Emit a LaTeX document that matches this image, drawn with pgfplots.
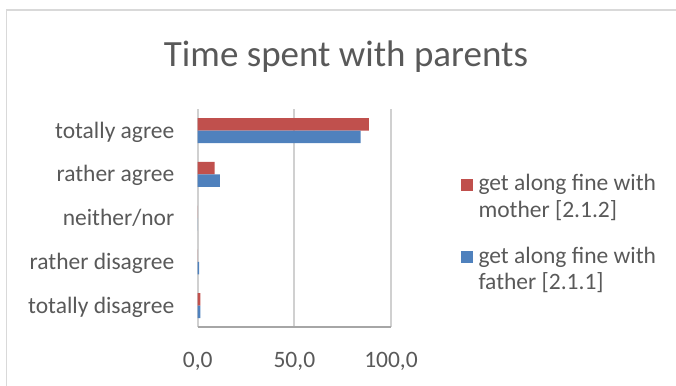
\documentclass[border=0pt]{standalone}
\usepackage{fontspec}
\setmainfont{Carlito}
\usepackage{pgfplots}
\usepackage{pgfplotstable}
\pgfplotsset{compat=1.18}

\definecolor{mothercol}{HTML}{C0504D}
\definecolor{fathercol}{HTML}{4F81BD}
\definecolor{txtgray}{HTML}{595959}
\definecolor{gridgray}{HTML}{D0D0D0}
\definecolor{framegray}{HTML}{D9D9D9}
\definecolor{axisgray}{HTML}{A6A6A6}

% share of answers (%) per category, 0 = totally disagree ... 4 = totally agree
\pgfplotstableread{
pos mother father
0   1.4    1.4
1   0      0.7
2   0      0
3   8.8    11.5
4   88.5   84.3
}\answers

\newcommand{\labelfont}{\fontsize{23.5}{28}\selectfont}

\begin{document}
\begin{tikzpicture}[x=1pt,y=1pt]
\useasboundingbox (0,0) rectangle (676,385);
% chart frame
\begin{scope}
  \clip (0,0) rectangle (676,385);
  \draw[framegray, line width=1.5pt] (6.5,-20) |- (700,375);
\end{scope}

\node[txtgray, font=\fontsize{37}{44}\selectfont, anchor=base, inner sep=0]
  at (346,318) {Time spent with parents};

\begin{axis}[
  at={(197.7pt,57.5pt)}, anchor=south west,
  scale only axis, width=193.3pt, height=218.7pt,
  xbar, bar width=12.5pt,
  xmin=0, xmax=100, ymin=-0.5, ymax=4.5,
  xtick={0,50,100},
  ytick={0,1,2,3,4},
  yticklabels={totally disagree, rather disagree, neither/nor, rather agree, totally agree},
  major tick length=0pt,
  axis line style={draw=none},
  xmajorgrids, grid style={gridgray, line width=1.8pt},
  /pgf/number format/assume math mode=true,
  xticklabel style={/pgf/number format/.cd, fixed, fixed zerofill, precision=1, use comma,
    /tikz/.cd, font=\labelfont, text=txtgray, anchor=base, inner sep=0pt, yshift=-39.8pt},
  yticklabel style={font=\labelfont, text=txtgray, anchor=base east, inner sep=0pt,
    xshift=-23.2pt, yshift=-7.5pt},
  clip=false,
]
\addplot[draw=none, fill=mothercol, bar shift=6.25pt] table[x=mother, y=pos] {\answers};
\addplot[draw=none, fill=fathercol, bar shift=-6.25pt] table[x=father, y=pos] {\answers};
\draw[axisgray, line width=2pt] (rel axis cs:0,0) -- (rel axis cs:1,0);
\end{axis}

% legend
\fill[mothercol] (460.7,194) rectangle (473.3,206.3);
\node[txtgray, font=\labelfont, anchor=base west, inner sep=0] at (478.3,194) {get along fine with};
\node[txtgray, font=\labelfont, anchor=base west, inner sep=0] at (478.3,167.7) {mother [2.1.2]};
\fill[fathercol] (460.7,121.7) rectangle (473.3,134.3);
\node[txtgray, font=\labelfont, anchor=base west, inner sep=0] at (478.3,121.7) {get along fine with};
\node[txtgray, font=\labelfont, anchor=base west, inner sep=0] at (478.3,95.7) {father [2.1.1]};
\end{tikzpicture}
\end{document}
